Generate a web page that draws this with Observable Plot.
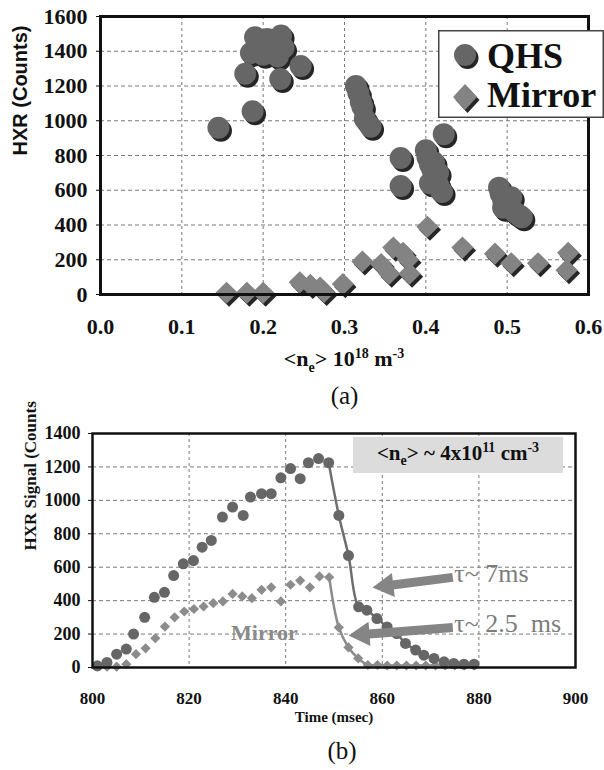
<!DOCTYPE html>
<html><head><meta charset="utf-8">
<script src="https://cdn.jsdelivr.net/npm/d3@7"></script>
<script src="https://cdn.jsdelivr.net/npm/@observablehq/plot@0.6"></script>
<style>
body{margin:0;background:#fff;}
#wrap{position:relative;width:604px;height:770px;overflow:hidden;background:#fff;font-family:"Liberation Serif","Times New Roman",serif;}
#wrap > svg{position:absolute;left:0;}
#wrap g[aria-label$="tick label"] text{font-family:"Liberation Serif","Times New Roman",serif;font-weight:bold;}
.ov{position:absolute;white-space:nowrap;}
</style></head><body><div id="wrap"></div>
<script>
// ---------- Panel (a): HXR vs line-averaged density ----------
const qhsDensity = [0.145,0.187,0.178,0.221,0.246,0.185,0.19,0.2,0.205,0.21,0.215,0.222,0.225,0.2,0.218,
  0.314,0.317,0.32,0.322,0.325,0.332,
  0.369,0.369,0.422,
  0.4,0.402,0.405,0.408,0.41,0.412,0.415,0.418,0.42,0.41,0.415,0.405,
  0.49,0.492,0.495,0.5,0.505,0.51,0.515,0.518,0.495,0.505];
const qhsHXR = [960,1055,1270,1240,1315,1390,1480,1440,1470,1400,1460,1490,1420,1380,1370,
  1200,1160,1110,1080,1010,965,
  786,625,923,
  830,790,750,720,690,660,630,600,590,760,700,640,
  615,580,545,520,490,470,455,445,500,560];
const mirrorDensity = [0.155,0.18,0.2,0.245,0.258,0.27,0.275,0.298,0.322,0.345,0.355,0.36,0.372,0.38,0.378,0.402,0.445,0.485,0.505,0.538,0.575,0.573];
const mirrorHXR = [10,10,10,70,55,40,15,60,190,175,120,270,240,120,200,390,270,235,180,180,240,140];
const densityTicks = [0,0.1,0.2,0.3,0.4,0.5,0.6];
const densityGrid = [0.1,0.2,0.3,0.4,0.5];
const hxrTicks = [0,200,400,600,800,1000,1200,1400,1600];
const hxrGrid = [200,400,600,800,1000,1200,1400];

// ---------- Panel (b): HXR signal vs time ----------
const qhsTime = [801,803,805,807,808.5,810.8,812.8,814.9,816.8,818.8,820.9,822.7,824.6,826.9,829,831.2,832.7,835,837,839,841,843,844.7,846.8,848.9,
  851,853,855.1,856.8,858.9,861,863,864.8,866.9,868.6,870.7,872.8,874.8,876.9,879];
const qhsSignal = [10,30,80,110,200,300,420,450,550,620,640,720,760,900,960,910,1020,1040,1040,1135,1190,1130,1225,1250,1225,
  910,670,363,343,293,243,203,144,104,74,54,34,24,20,20];
const mirrorTime = [801,803,805,807,809,811,813,815,817,819,821,823,825,827,829,831,833,835,837,839,841,843,845,847,849,
  851,853,855,857,859,861,863,865,867,869,871,873,875,877,879];
const mirrorSignal = [5,5,5,20,80,115,175,245,300,335,350,365,385,395,440,425,415,465,480,395,495,520,480,545,540,
  240,120,55,15,15,12,12,12,12,12,12,12,12,12,12];
const timeTicks = [800,820,840,860,880,900];
const timeGrid = [820,840,860,880];
const signalTicks = [0,200,400,600,800,1000,1200,1400];
const signalGrid = [200,400,600,800,1000,1200];
const decayStartQHS = 848.9;
const decayStartMirror = 849;

// annotations of panel (b), in data units
const tauLabels = ["τ~ 7ms", "τ~ 2.5\u00a0\u00a0ms"];
const tauLabelTime = [874.9, 874.9];
const tauLabelSignal = [562, 263];
const arrowTailTime = [874.6, 874.6];
const arrowTailSignal = [539, 239];
const arrowHeadTime = [860.85, 855.9];
const arrowHeadSignal = [489, 198];
const arrowAngle = [263, 265.6];
const mirrorTag = ["Mirror"];
const mirrorTagTime = [835.6];
const mirrorTagSignal = [209];

const serif = "'Liberation Serif','Times New Roman',serif";
const sans = "'Liberation Sans',Arial,sans-serif";
const wrap = document.getElementById("wrap");
const gridStyle = {stroke: "#7a7a7a", strokeOpacity: 1, strokeWidth: 1};

const qhsA = qhsDensity.map((x, i) => ({x, y: qhsHXR[i]}));
const mirA = mirrorDensity.map((x, i) => ({x, y: mirrorHXR[i]}));

const chartA = Plot.plot({
  width: 604, height: 400,
  marginLeft: 100, marginRight: 16, marginTop: 16, marginBottom: 106,
  x: {domain: [0, 0.6]},
  y: {domain: [0, 1600]},
  style: {fontFamily: serif, fontSize: "21px", fontWeight: "bold", color: "#111", background: "transparent", overflow: "visible"},
  marks: [
    Plot.gridX(densityGrid, {...gridStyle, strokeDasharray: "3,3"}),
    Plot.gridY(hxrGrid, {...gridStyle, strokeDasharray: "4,3"}),
    Plot.axisX(densityTicks, {tickSize: 0, tickPadding: 24, tickFormat: d3.format(".1f"), label: null, fontFamily: serif, fontSize: 22, fontWeight: "bold", fill: "#111"}),
    Plot.axisY(hxrTicks, {tickSize: 4, tickPadding: 9, tickFormat: d3.format("d"), label: null, fontFamily: serif, fontSize: 22, fontWeight: "bold", fill: "#111"}),
    Plot.dot(mirA, {x: "x", y: "y", symbol: "diamond2", r: 10, fill: "#262626", stroke: "none", dx: 2.5, dy: 3}),
    Plot.dot(mirA, {x: "x", y: "y", symbol: "diamond2", r: 10, fill: "#838383", stroke: "none"}),
    Plot.dot(qhsA, {x: "x", y: "y", r: 11, fill: "#262626", stroke: "none", dx: 2.5, dy: 3}),
    Plot.dot(qhsA, {x: "x", y: "y", r: 11, fill: "#666666", stroke: "none"}),
    Plot.frame({stroke: "#111", strokeWidth: 3}),
    Plot.text(["HXR (Counts)"], {frameAnchor: "left", dx: -80, rotate: -90, text: d => d, fontFamily: sans, fontSize: 20, fontWeight: "bold", fill: "#111"}),
    Plot.text(["(a)"], {frameAnchor: "bottom", dy: 101, text: d => d, fontFamily: serif, fontSize: 25, fontWeight: "normal", fill: "#111", lineAnchor: "middle"})
  ]
});
chartA.style.top = "0px";
wrap.appendChild(chartA);

const qhsB = qhsTime.map((x, i) => ({x, y: qhsSignal[i]}));
const mirB = mirrorTime.map((x, i) => ({x, y: mirrorSignal[i]}));
const arrows = arrowTailTime.map((t, i) => ({x1: t, y1: arrowTailSignal[i], x2: arrowHeadTime[i], y2: arrowHeadSignal[i], a: arrowAngle[i]}));
const tauData = tauLabels.map((s, i) => ({s, x: tauLabelTime[i], y: tauLabelSignal[i]}));
const tagData = mirrorTag.map((s, i) => ({s, x: mirrorTagTime[i], y: mirrorTagSignal[i]}));

const chartB = Plot.plot({
  width: 604, height: 370,
  marginLeft: 92, marginRight: 29, marginTop: 33, marginBottom: 103,
  x: {domain: [800, 900]},
  y: {domain: [0, 1400]},
  style: {fontFamily: serif, fontSize: "17px", fontWeight: "bold", color: "#111", background: "transparent", overflow: "visible"},
  marks: [
    Plot.gridX(timeGrid, {...gridStyle, strokeDasharray: "3,3"}),
    Plot.gridY(signalGrid, {...gridStyle, strokeDasharray: "4,3"}),
    Plot.axisX(timeTicks, {tickSize: 0, tickPadding: 24, tickFormat: d3.format("d"), label: null, fontFamily: serif, fontSize: 17, fontWeight: "bold", fill: "#111"}),
    Plot.axisY(signalTicks, {tickSize: 4, tickPadding: 8, tickFormat: d3.format("d"), label: null, fontFamily: serif, fontSize: 18, fontWeight: "bold", fill: "#111"}),
    Plot.line(qhsB.filter(d => d.x >= decayStartQHS), {x: "x", y: "y", stroke: "#6e6e6e", strokeWidth: 2.5, curve: "catmull-rom"}),
    Plot.line(mirB.filter(d => d.x >= decayStartMirror), {x: "x", y: "y", stroke: "#8c8c8c", strokeWidth: 2.5, curve: "catmull-rom"}),
    Plot.dot(mirB, {x: "x", y: "y", symbol: "diamond2", r: 4.6, fill: "#8c8c8c", stroke: "none"}),
    Plot.dot(qhsB, {x: "x", y: "y", r: 5.5, fill: "#666666", stroke: "none"}),
    Plot.frame({stroke: "#111", strokeWidth: 2.5}),
    Plot.link(arrows, {x1: "x1", y1: "y1", x2: "x2", y2: "y2", stroke: "#858585", strokeWidth: 9}),
    Plot.dot(arrows, {x: "x2", y: "y2", symbol: "triangle", r: 9, rotate: "a", fill: "#858585", stroke: "none"}),
    Plot.text(tauData, {x: "x", y: "y", text: "s", textAnchor: "start", fontFamily: serif, fontSize: 26, fontWeight: "normal", fill: "#7c7c7c"}),
    Plot.text(tagData, {x: "x", y: "y", text: "s", fontFamily: serif, fontSize: 22, fontWeight: "bold", fill: "#8a8a8a"}),
    Plot.text(["HXR Signal (Counts"], {frameAnchor: "left", dx: -62, rotate: -90, text: d => d, fontFamily: serif, fontSize: 17, fontWeight: "bold", fill: "#111"}),
    Plot.text(["Time (msec)"], {frameAnchor: "bottom", dy: 50, text: d => d, fontFamily: serif, fontSize: 15, fontWeight: "bold", fill: "#111", lineAnchor: "middle"}),
    Plot.text(["(b)"], {frameAnchor: "bottom", dy: 83, dx: 8, text: d => d, fontFamily: serif, fontSize: 25, fontWeight: "normal", fill: "#111", lineAnchor: "middle"})
  ]
});
chartB.style.top = "400px";
wrap.appendChild(chartB);

// x-axis title of panel (a)
const xl = document.createElement("div");
xl.className = "ov";
xl.style.cssText += "left:344px;top:361px;transform:translate(-50%,-50%);font:bold 22px " + serif + ";color:#111;";
xl.innerHTML = "<span>&lt;n<sub style='font-size:14px'>e</sub>&gt; 10<sup style='font-size:14px'>18</sup> m<sup style='font-size:14px'>-3</sup></span>";
wrap.appendChild(xl);

// legend of panel (a)
const lg = document.createElement("div");
lg.className = "ov";
lg.style.cssText += "left:438px;top:30px;";
lg.innerHTML = `<svg width="166" height="88" style="display:block;overflow:visible">
  <rect x="0.75" y="0.75" width="164.5" height="86.5" fill="#fff" stroke="#444" stroke-width="1.5"/>
  <circle cx="29.5" cy="28" r="11" fill="#262626"/>
  <circle cx="27" cy="25" r="11" fill="#666"/>
  <path d="M29.5,57 L41.5,70 L29.5,83 L17.5,70 Z" fill="#262626"/>
  <path d="M27,54 L39,67 L27,80 L15,67 Z" fill="#838383"/>
  <text x="49" y="38" font-family="${serif}" font-weight="bold" font-size="36" fill="#111">QHS</text>
  <text x="49" y="77" font-family="${serif}" font-weight="bold" font-size="36" fill="#111">Mirror</text>
</svg>`;
wrap.appendChild(lg);

// density annotation of panel (b)
const nb = document.createElement("div");
nb.className = "ov";
nb.style.cssText += "left:353px;top:437px;width:210px;height:36px;background:#dcdcdc;display:flex;align-items:center;justify-content:center;font:bold 21px " + serif + ";color:#111;";
nb.innerHTML = "<span>&lt;n<sub style='font-size:14px'>e</sub>&gt; ~ 4x10<sup style='font-size:14px'>11</sup> cm<sup style='font-size:14px'>-3</sup></span>";
wrap.appendChild(nb);
</script>
</body></html>
